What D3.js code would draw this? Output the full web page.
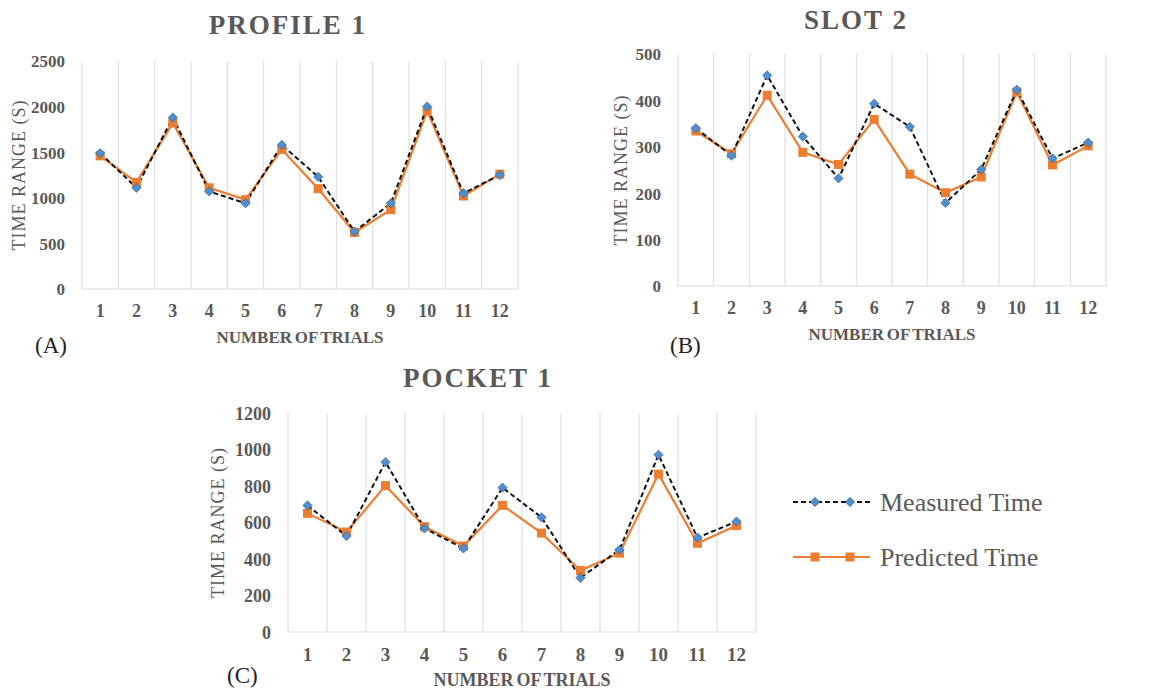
<!DOCTYPE html>
<html>
<head>
<meta charset="utf-8">
<script src="https://cdn.jsdelivr.net/npm/d3@7"></script>
<style>
  html, body { margin: 0; padding: 0; background: #fff; }
  svg { display: block; }
  svg text { font-family: "Liberation Serif", "Times New Roman", serif; }
</style>
</head>
<body>
<svg id="chart" width="1151" height="690"></svg>
<script>
// ---------------- DATA ----------------
const trials = ["1","2","3","4","5","6","7","8","9","10","11","12"];

const profileMeasured  = [1490, 1110, 1880, 1070, 940, 1580, 1230, 630, 940, 2000, 1050, 1250];
const profilePredicted = [1460, 1170, 1820, 1110, 980, 1530, 1100, 620, 870, 1950, 1020, 1260];
const profileTicks     = [0, 500, 1000, 1500, 2000, 2500];

const slotMeasured  = [340, 281, 454, 322, 232, 393, 343, 179, 251, 423, 275, 309];
const slotPredicted = [334, 285, 411, 288, 262, 359, 241, 201, 235, 418, 261, 302];
const slotTicks     = [0, 100, 200, 300, 400, 500];

const pocketMeasured  = [693, 526, 931, 568, 458, 791, 628, 297, 451, 971, 517, 605];
const pocketPredicted = [650, 548, 802, 577, 471, 694, 542, 337, 432, 865, 486, 583];
const pocketTicks     = [0, 200, 400, 600, 800, 1000, 1200];

const seriesNames = ["Measured Time", "Predicted Time"];
const panelTitles = ["PROFILE 1", "SLOT 2", "POCKET 1"];
const panelLetters = ["(A)", "(B)", "(C)"];
const xAxisTitle = "NUMBER OF TRIALS";
const yAxisTitle = "TIME RANGE (S)";

// ---------------- STYLE ----------------
const GRAY = "#595959";
const GRID = "#d9d9d9";
const BLUE = "#4f8fcf";
const ORANGE = "#ed7d31";
const SERIF = "Liberation Serif, Times New Roman, serif";

const svg = d3.select("#chart");

function diamond(g, xx, yy) {
  g.append("rect").attr("x", -3.3).attr("y", -3.3).attr("width", 6.6).attr("height", 6.6)
    .attr("transform", `translate(${xx},${yy}) rotate(45)`)
    .attr("fill", BLUE).attr("stroke", "#2f5f8f").attr("stroke-width", 0.6);
}

function drawPanel(p) {
  const g = svg.append("g");
  const x = d3.scaleBand().domain(trials).range([p.left, p.right]).padding(0);
  const y = d3.scaleLinear().domain([0, d3.max(p.ticks)]).range([p.bottom, p.top]);
  const cx = d => x(d) + x.bandwidth() / 2;

  // vertical grid at band boundaries
  const bounds = trials.map(t => x(t)).concat([p.right]);
  g.selectAll("line.grid").data(bounds).join("line")
    .attr("x1", d => d).attr("x2", d => d)
    .attr("y1", p.top).attr("y2", p.bottom)
    .attr("stroke", GRID).attr("stroke-width", 1);

  // baseline
  g.append("line").attr("x1", p.left).attr("x2", p.right)
    .attr("y1", y(0)).attr("y2", y(0))
    .attr("stroke", GRID).attr("stroke-width", 1.2);

  // y axis labels
  const ya = g.append("g").attr("transform", `translate(${p.left - 17},0)`)
    .call(d3.axisLeft(y).tickValues(p.ticks).tickSize(0).tickPadding(0).tickFormat(d3.format("d")));
  ya.attr("font-family", SERIF);
  ya.select(".domain").remove();
  ya.selectAll("text").attr("fill", GRAY).attr("font-size", p.fs).attr("font-weight", "bold")
    .attr("font-family", SERIF).attr("dy", "0.35em");

  // x axis labels
  const xa = g.append("g").attr("transform", `translate(0,${p.bottom + 15})`)
    .call(d3.axisBottom(x).tickSize(0).tickPadding(0));
  xa.attr("font-family", SERIF);
  xa.select(".domain").remove();
  xa.selectAll("text").attr("fill", GRAY).attr("font-size", p.fs + 1).attr("font-weight", "bold")
    .attr("font-family", SERIF).attr("dy", "0.71em");

  // titles
  g.append("text").attr("x", p.titleX).attr("y", p.titleY)
    .attr("text-anchor", "middle").attr("font-size", 27).attr("font-weight", "bold")
    .attr("letter-spacing", 2).attr("fill", GRAY).attr("font-family", SERIF).text(p.title);

  g.append("text").attr("x", (p.left + p.right) / 2).attr("y", p.bottom + 54)
    .attr("text-anchor", "middle").attr("font-size", p.fs).attr("font-weight", "bold")
    .attr("word-spacing", -1.5).attr("fill", GRAY).attr("font-family", SERIF).text(xAxisTitle);

  g.append("text")
    .attr("transform", `translate(${p.yTitleX},${(p.top + p.bottom) / 2}) rotate(-90)`)
    .attr("text-anchor", "middle").attr("dominant-baseline", "central")
    .attr("font-size", 18).attr("letter-spacing", 1).attr("fill", GRAY)
    .attr("font-family", SERIF).text(yAxisTitle);

  g.append("text").attr("x", p.letterX).attr("y", p.letterY)
    .attr("font-size", 23).attr("fill", "#222").attr("font-family", SERIF).text(p.letter);

  // lines
  const line = d3.line().x((d, i) => cx(trials[i])).y(d => y(d));
  g.append("path").datum(p.predicted).attr("d", line)
    .attr("fill", "none").attr("stroke", ORANGE).attr("stroke-width", 2.2);
  g.append("path").datum(p.measured).attr("d", line)
    .attr("fill", "none").attr("stroke", "#111").attr("stroke-width", 2)
    .attr("stroke-dasharray", "5,3");

  // markers
  g.selectAll("rect.pm").data(p.predicted).join("rect")
    .attr("x", (d, i) => cx(trials[i]) - 4.5).attr("y", d => y(d) - 4.5)
    .attr("width", 9).attr("height", 9).attr("fill", ORANGE);
  p.measured.forEach((d, i) => diamond(g, cx(trials[i]), y(d)));
}

drawPanel({ title: panelTitles[0], letter: panelLetters[0], measured: profileMeasured, predicted: profilePredicted,
  ticks: profileTicks, left: 82, right: 518, top: 61, bottom: 289, fs: 17,
  titleX: 288, titleY: 34, yTitleX: 19, letterX: 35, letterY: 353 });

drawPanel({ title: panelTitles[1], letter: panelLetters[1], measured: slotMeasured, predicted: slotPredicted,
  ticks: slotTicks, left: 678, right: 1106, top: 54, bottom: 286, fs: 17,
  titleX: 856, titleY: 29, yTitleX: 621, letterX: 670, letterY: 353 });

drawPanel({ title: panelTitles[2], letter: panelLetters[2], measured: pocketMeasured, predicted: pocketPredicted,
  ticks: pocketTicks, left: 288, right: 756, top: 413, bottom: 632, fs: 18,
  titleX: 478, titleY: 387, yTitleX: 218, letterX: 227, letterY: 683 });

// ---------------- LEGEND ----------------
const leg = svg.append("g");
const legY = [502, 557];
// measured
leg.append("line").attr("x1", 793).attr("x2", 870).attr("y1", legY[0]).attr("y2", legY[0])
  .attr("stroke", "#111").attr("stroke-width", 2).attr("stroke-dasharray", "5,3");
[815, 850].forEach(xx => diamond(leg, xx, legY[0]));
// predicted
leg.append("line").attr("x1", 793).attr("x2", 870).attr("y1", legY[1]).attr("y2", legY[1])
  .attr("stroke", ORANGE).attr("stroke-width", 2.2);
[815, 850].forEach(xx => leg.append("rect").attr("x", xx - 4.5).attr("y", legY[1] - 4.5)
  .attr("width", 9).attr("height", 9).attr("fill", ORANGE));
seriesNames.forEach((n, i) => leg.append("text").attr("x", 880).attr("y", legY[i])
  .attr("dominant-baseline", "central").attr("font-size", 26).attr("fill", GRAY)
  .attr("font-family", SERIF).text(n));
</script>
</body>
</html>
